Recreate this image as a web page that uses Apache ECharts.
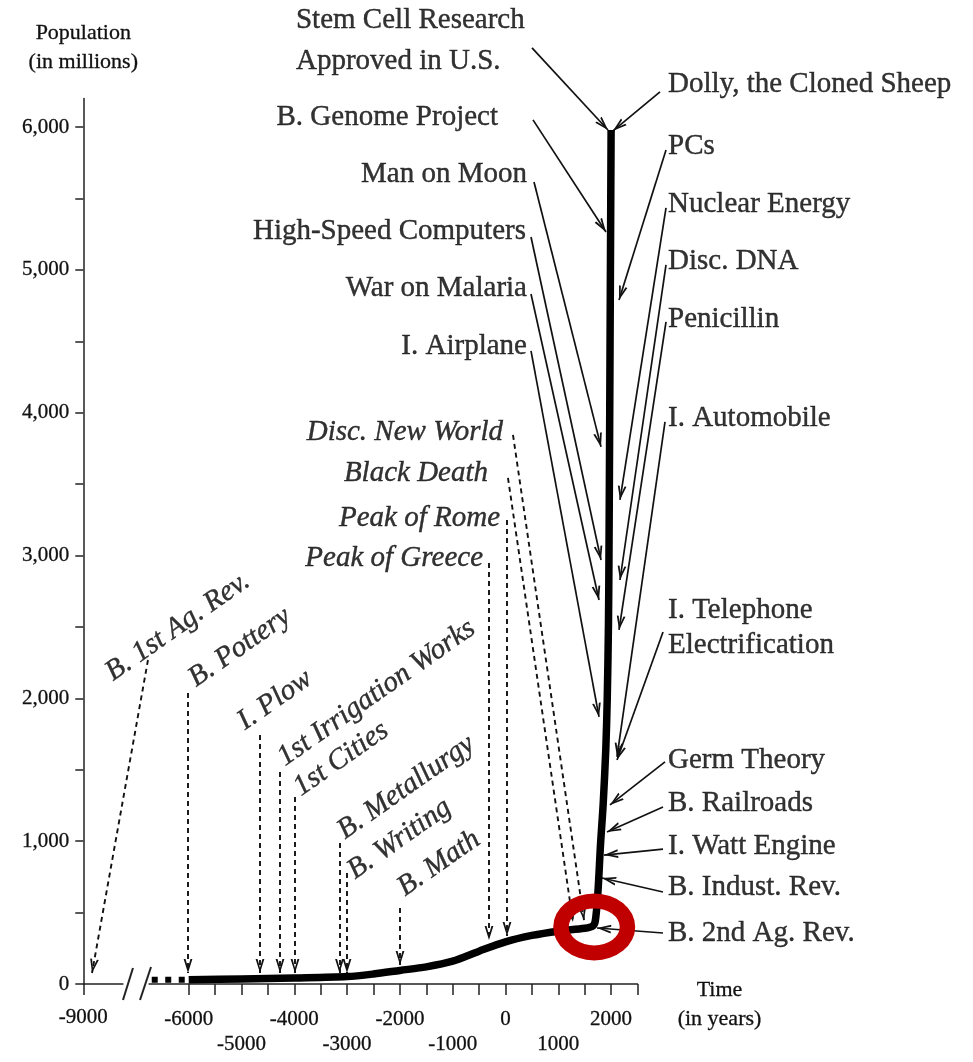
<!DOCTYPE html>
<html>
<head>
<meta charset="utf-8">
<script src="https://cdn.jsdelivr.net/npm/echarts@6/dist/echarts.min.js"></script>
<style>
  html, body { margin: 0; padding: 0; background: #fff; }
  #main { width: 973px; height: 1062px; }
</style>
</head>
<body>
<div id="main"></div>
<script>
// world population (millions) by year
const popYears  = [-6000, -5000, -4000, -3000, -2500, -2000, -1500, -1000, -500, 0, 500, 1000, 1500, 1650, 1700, 1750, 1800, 1850, 1900, 1927, 1950, 1960, 1974, 1987, 2000];
const popValues = [30, 35, 42, 52, 70, 95, 120, 160, 230, 295, 340, 370, 390, 405, 440, 640, 980, 1260, 1650, 2000, 2520, 3020, 4000, 5000, 5980];
// the dotted lead-in before -6000
const earlyYears  = [-6700, -6000];
const earlyValues = [30, 30];

// axis ticks / labels
const yTickValues  = [0, 500, 1000, 1500, 2000, 2500, 3000, 3500, 4000, 4500, 5000, 5500, 6000];
const yLabelValues = [0, 1000, 2000, 3000, 4000, 5000, 6000];
const xTickValues  = [-6000, -5500, -5000, -4500, -4000, -3500, -3000, -2500, -2000, -1500, -1000, -500, 0, 500, 1000, 1500, 2000, 2500];
const xTopLabels   = [-6000, -4000, -2000, 0, 2000];
const xLowLabels   = [-5000, -3000, -1000, 1000];
const xFarValues   = [-9000];

// right side events (solid arrows): name, arrow tip [year, pop]
const rightNames = ['Dolly, the Cloned Sheep', 'PCs', 'Nuclear Energy', 'Disc. DNA', 'Penicillin', 'I. Automobile',
  'I. Telephone\nElectrification', 'Germ Theory', 'B. Railroads', 'I. Watt Engine', 'B. Indust. Rev.', 'B. 2nd Ag. Rev.'];
const rightTips = [[2036, 5974], [2150, 4790], [2168, 3390], [2168, 2829], [2150, 2479], [2112, 1590],
  [2112, 1569], [1979, 1254], [1922, 1064], [1866, 903], [1828, 742], [1733, 392]];

// left side modern events (solid arrows)
const leftNames = ['Stem Cell Research\nApproved in U.S.', 'B. Genome Project', 'Man on Moon', 'High-Speed Computers', 'War on Malaria', 'I. Airplane'];
const leftTips  = [[1941, 5980], [1903, 5266], [1809, 3761], [1809, 2969], [1771, 2689], [1771, 1870]];

// historic events, horizontal italic labels (dashed arrows)
const histNames = ['Disc. New World', 'Black Death', 'Peak of Rome', 'Peak of Greece'];
const histTips  = [[1487, 448], [1278, 434], [28, 336], [-313, 308]];

// ancient events, slanted italic labels (dashed arrows)
const ancientNames = ['B. Pottery', 'I. Plow', '1st Irrigation Works', '1st Cities', 'B. Metallurgy', 'B. Writing', 'B. Math'];
const ancientTips  = [[-6013, 77], [-4650, 77], [-4271, 77], [-3987, 77], [-3144, 77], [-3002, 77], [-1998, 133]];

// the earliest event sits on the far (-9000) piece of the axis
const farNames = ['B. 1st Ag. Rev.'];
const farTips  = [[-8835, 77]];

// highlighted knee of the curve
const highlightPoint = [1680, 400];

// ---- layout: where labels sit and where arrows start (data coordinates) ----
const rightLabelAt = [[3078, 6303], [3078, 5862], [3078, 5462], [3078, 5063], [3078, 4657], [3078, 3964],
  [3078, 2497], [3078, 1569], [3078, 1268], [3078, 966], [3078, 679], [3078, 357]];
const rightFrom = [[2926, 6247], [3040, 5840], [3040, 5434], [3040, 5035], [3040, 4636], [3021, 3936],
  [2983, 2465], [3021, 1555], [2983, 1240], [2983, 945], [2983, 644], [2983, 357]];
const leftLabelAt = [[-3968, 6607], [-142, 6065], [407, 5672], [388, 5273], [407, 4874], [407, 4468]];
const leftFrom = [[502, 6555], [521, 6051], [540, 5616], [483, 5231], [483, 4832], [483, 4433]];
const histLabelAt = [[-47, 3866], [-331, 3579], [-104, 3263], [-426, 2983]];
const histFrom = [[142, 3845], [47, 3544], [28, 3249], [-313, 2948]];
const ancientLabelAt = [[-5787, 2038], [-4859, 1737], [-4101, 1485], [-3798, 1275], [-2964, 973], [-2775, 693], [-1828, 574]];
const ancientFrom = [[-6013, 2038], [-4650, 1744], [-4271, 1485], [-3987, 1310], [-3144, 987], [-3002, 777], [-1998, 532]];
const farLabelAt = [[-8362, 2080]];
const farFrom = [[-7775, 2269]];
const breakMarks = [[[-8248, -112], [-8059, 112]], [[-7926, -112], [-7718, 119]]];

const serif = 'Liberation Serif, Times New Roman, serif';
const ink = '#000';
// open chevron arrow head, tip at centre of its box, pointing up
const arrowHead = 'path://M0,0L0,0ZM32,32L32,32ZM16,16L21,32L18.8,32L16,22L13.2,32L11,32Z';
const ring = 'path://M0,33.5A41,33.5 0 1,1 82,33.5A41,33.5 0 1,1 0,33.5ZM15.5,33.5A25.5,18.5 0 1,0 66.5,33.5A25.5,18.5 0 1,0 15.5,33.5Z';

function zip(a, b) { return a.map((v, i) => [v, b[i]]); }
function arrows(from, tips) { return from.map((f, i) => ({ coords: [f, tips[i]] })); }
function labels(names, at, lab) { return names.map((n, i) => ({ name: n, value: at[i], label: lab(i) })); }

const chart = echarts.init(document.getElementById('main'));

const axisText = { fontFamily: serif, fontSize: 21, color: '#111', textBorderColor: '#111', textBorderWidth: 0.3 };
const axisLine = { lineStyle: { color: '#222', width: 1.5 } };
const labelText = { show: true, position: 'inside', formatter: '{b}', color: ink, fontFamily: serif, fontSize: 29,
  textBorderColor: ink, textBorderWidth: 0.4 };

const option = {
  animation: false,
  backgroundColor: '#fff',
  grid: [
    { left: 83.3, right: 850.1, top: 98.6, bottom: 78 },
    { left: 149.1, right: 335.5, top: 98.6, bottom: 78 }
  ],
  xAxis: [
    {
      type: 'value', gridIndex: 0, min: -9000, max: -8250,
      axisLine: axisLine,
      axisTick: { customValues: xFarValues, length: 11, lineStyle: { color: '#222', width: 1.5 } },
      axisLabel: Object.assign({ customValues: xFarValues, margin: 23, formatter: v => String(v) }, axisText),
      splitLine: { show: false }
    },
    {
      type: 'value', gridIndex: 1, min: -6750, max: 2500,
      axisLine: axisLine,
      axisTick: { customValues: xTickValues, length: 11, lineStyle: { color: '#222', width: 1.5 } },
      axisLabel: Object.assign({
        customValues: xTopLabels.concat(xLowLabels), margin: 23, lineHeight: 25,
        formatter: v => xLowLabels.includes(v) ? '\n' + v : String(v)
      }, axisText),
      splitLine: { show: false },
      name: '{gap|}\nTime\n(in years)', nameLocation: 'end', nameGap: 82,
      nameTextStyle: { fontFamily: serif, fontSize: 22, color: '#111', lineHeight: 29, align: 'center', verticalAlign: 'middle',
        textBorderColor: '#111', textBorderWidth: 0.3, rich: { gap: { lineHeight: 41, fontSize: 22 } } }
    }
  ],
  yAxis: [
    {
      type: 'value', gridIndex: 0, min: 0, max: 6200,
      axisLine: Object.assign({ show: true }, axisLine),
      axisTick: { show: true, customValues: yTickValues, length: 8, lineStyle: { color: '#222', width: 1.5 } },
      axisLabel: Object.assign({ customValues: yLabelValues, margin: 14, formatter: v => v.toLocaleString('en-US') }, axisText),
      splitLine: { show: false },
      name: 'Population\n(in millions)', nameLocation: 'end', nameGap: 22,
      nameTextStyle: { fontFamily: serif, fontSize: 22, color: '#111', lineHeight: 29, textBorderColor: '#111', textBorderWidth: 0.3 }
    },
    { type: 'value', gridIndex: 1, min: 0, max: 6200, show: false }
  ],
  series: [
    {
      type: 'line', xAxisIndex: 1, yAxisIndex: 1, data: zip(earlyYears, earlyValues),
      symbol: 'none', lineStyle: { color: '#000', width: 6, type: [6, 7.5], cap: 'butt' }, z: 3
    },
    {
      type: 'line', xAxisIndex: 1, yAxisIndex: 1, data: zip(popYears, popValues),
      symbol: 'none', smooth: 0.3, lineStyle: { color: '#000', width: 7.5, join: 'round' }, z: 4
    },
    {
      type: 'lines', coordinateSystem: 'cartesian2d', xAxisIndex: 1, yAxisIndex: 1, clip: false,
      symbol: ['none', arrowHead], symbolSize: 28,
      lineStyle: { color: '#111', width: 1.7, opacity: 1 },
      data: arrows(rightFrom, rightTips).concat(arrows(leftFrom, leftTips)), z: 3
    },
    {
      type: 'lines', coordinateSystem: 'cartesian2d', xAxisIndex: 1, yAxisIndex: 1, clip: false,
      symbol: ['none', arrowHead], symbolSize: 28,
      lineStyle: { color: '#111', width: 1.9, type: [5, 4], opacity: 1 },
      data: arrows(histFrom, histTips).concat(arrows(ancientFrom, ancientTips)), z: 3
    },
    {
      type: 'lines', coordinateSystem: 'cartesian2d', xAxisIndex: 0, yAxisIndex: 0, clip: false,
      symbol: ['none', arrowHead], symbolSize: 28,
      lineStyle: { color: '#111', width: 1.9, type: [5, 4], opacity: 1 },
      data: arrows(farFrom, farTips), z: 3
    },
    {
      type: 'lines', coordinateSystem: 'cartesian2d', xAxisIndex: 0, yAxisIndex: 0, clip: false,
      symbol: 'none', lineStyle: { color: '#222', width: 2, opacity: 1 },
      data: breakMarks.map(c => ({ coords: c })), z: 3
    },
    {
      type: 'scatter', xAxisIndex: 1, yAxisIndex: 1, clip: false, symbolSize: 1,
      itemStyle: { color: 'rgba(0,0,0,0)' }, silent: true,
      label: labelText,
      data: [].concat(
        labels(rightNames, rightLabelAt, i => ({ align: 'left', verticalAlign: 'middle', lineHeight: 35 })),
        labels(leftNames, leftLabelAt, i => i === 0
          ? { align: 'left', verticalAlign: 'middle', lineHeight: 41 }
          : { align: 'right', verticalAlign: 'middle' }),
        labels(histNames, histLabelAt, i => ({ align: 'right', verticalAlign: 'middle', fontStyle: 'italic' })),
        labels(ancientNames, ancientLabelAt, i => ({ align: 'left', verticalAlign: 'bottom', fontStyle: 'italic', rotate: 35 }))
      ),
      z: 5
    },
    {
      type: 'scatter', xAxisIndex: 0, yAxisIndex: 0, clip: false, symbolSize: 1,
      itemStyle: { color: 'rgba(0,0,0,0)' }, silent: true,
      label: labelText,
      data: labels(farNames, farLabelAt, i => ({ align: 'left', verticalAlign: 'bottom', fontStyle: 'italic', rotate: 35 })),
      z: 5
    },
    {
      type: 'scatter', xAxisIndex: 1, yAxisIndex: 1, clip: false,
      symbol: ring, symbolSize: [82, 67], itemStyle: { color: '#c00000', opacity: 1 },
      data: [highlightPoint], silent: true, z: 10
    }
  ]
};

chart.setOption(option);
</script>
</body>
</html>
